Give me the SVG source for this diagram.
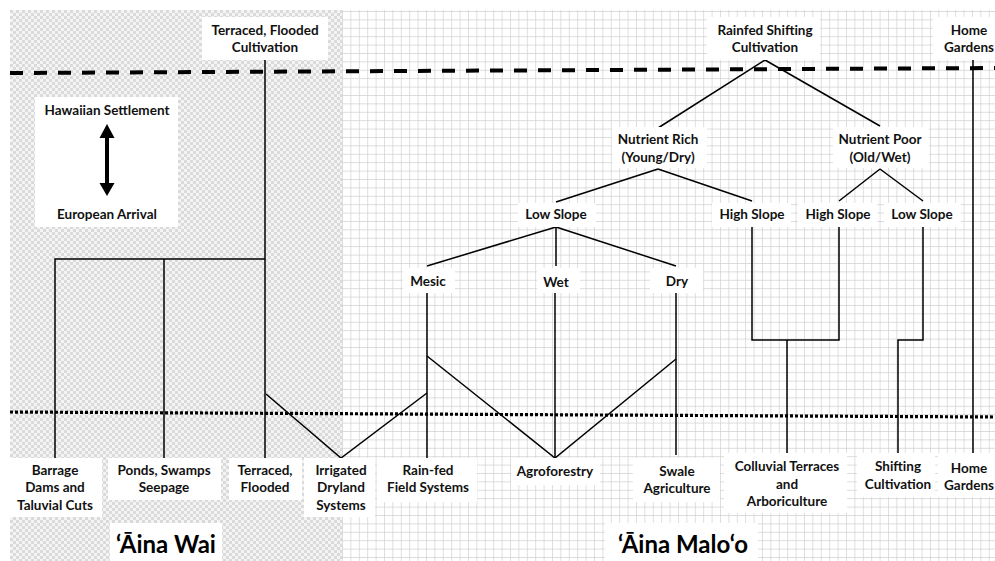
<svg xmlns="http://www.w3.org/2000/svg" width="995" height="561" viewBox="0 0 995 561">
<defs>
<pattern id="checker" x="10" y="10" width="6" height="6" patternUnits="userSpaceOnUse">
<rect width="6" height="6" fill="#f4f4f4"/>
<rect width="3" height="3" fill="#dadada"/>
<rect x="3" y="3" width="3" height="3" fill="#dadada"/>
</pattern>
<pattern id="grid" x="342" y="11" width="8.4" height="8.4" patternUnits="userSpaceOnUse">
<rect width="8.4" height="8.4" fill="#ffffff"/>
<path d="M0 0 V8.4 M0 0 H8.4" stroke="#cfcfcf" stroke-width="1.3" fill="none"/>
</pattern>
</defs>
<style>
text{font-family:Lato,"Liberation Sans",sans-serif;font-weight:bold;font-size:13.5px;fill:#111;text-anchor:middle}
.big{font-size:24px;fill:#000}
.box{fill:#ffffff}
.c{stroke:#000;stroke-width:1.5;fill:none}
</style>
<rect width="995" height="561" fill="#ffffff"/>
<rect x="10" y="10" width="332" height="551" fill="url(#checker)"/>
<rect x="342" y="10" width="653" height="551" fill="url(#grid)"/>

<g id="time-lines">
<line x1="10" y1="73" x2="995" y2="68" stroke="#000" stroke-width="4" stroke-dasharray="13 11"/>
<line x1="10" y1="412" x2="995" y2="417" stroke="#000" stroke-width="3.2" stroke-dasharray="3 2"/>
</g>

<g id="connectors" class="c">
<path d="M265 60 V458"/>
<path d="M55 458 V259 H265"/>
<path d="M164 259 V458"/>
<path d="M266 394 L341 458 L427 393"/>
<path d="M765 60 L658 128"/>
<path d="M765 60 L880 126"/>
<path d="M658 169 L556 202"/>
<path d="M658 169 L752 201"/>
<path d="M880 169 L839 201"/>
<path d="M880 169 L923 201"/>
<path d="M556 227 L427 266"/>
<path d="M556 227 V266"/>
<path d="M556 227 L676 266"/>
<path d="M427 293 V458"/>
<path d="M555 293 V458"/>
<path d="M676 293 V455"/>
<path d="M427 356 L555 458 L676 359"/>
<path d="M752 227 V340 H839 V227"/>
<path d="M787 340 V453"/>
<path d="M923 227 V340 H898 V453"/>
<path d="M973 60 V453"/>
</g>

<g id="legend">
<rect class="box" x="35" y="97" width="143" height="130"/>
<text x="107" y="115">Hawaiian Settlement</text>
<line x1="107" y1="135" x2="107" y2="186" stroke="#000" stroke-width="4"/>
<polygon points="107,124 99.5,138 114.5,138" fill="#000"/>
<polygon points="107,196 99.5,183 114.5,183" fill="#000"/>
<text x="107" y="219">European Arrival</text>
</g>

<g id="n-terraced-top"><rect class="box" x="202" y="17" width="126" height="43"/><text x="265" y="35">Terraced, Flooded</text><text x="265" y="52">Cultivation</text></g>
<g id="n-rainfed"><rect class="box" x="707" y="17" width="113" height="43"/><text x="765" y="35">Rainfed Shifting</text><text x="765" y="52">Cultivation</text></g>
<g id="n-home-top"><rect class="box" x="933" y="17" width="62" height="43"/><text x="969" y="35">Home</text><text x="969" y="52">Gardens</text></g>
<g id="n-rich"><rect class="box" x="612" y="127" width="95" height="41"/><text x="658" y="144">Nutrient Rich</text><text x="658" y="162">(Young/Dry)</text></g>
<g id="n-poor"><rect class="box" x="833" y="127" width="96" height="41"/><text x="880" y="144">Nutrient Poor</text><text x="880" y="162">(Old/Wet)</text></g>
<g id="n-low1"><rect class="box" x="518" y="203" width="78" height="24"/><text x="556" y="219">Low Slope</text></g>
<g id="n-high1"><rect class="box" x="712" y="203" width="79" height="24"/><text x="752" y="219">High Slope</text></g>
<g id="n-high2"><rect class="box" x="798" y="203" width="79" height="24"/><text x="838" y="219">High Slope</text></g>
<g id="n-low2"><rect class="box" x="884" y="203" width="77" height="24"/><text x="922" y="219">Low Slope</text></g>
<g id="n-mesic"><rect class="box" x="403" y="268" width="52" height="25"/><text x="428" y="286">Mesic</text></g>
<g id="n-wet"><rect class="box" x="537" y="268" width="43" height="25"/><text x="556" y="287">Wet</text></g>
<g id="n-dry"><rect class="box" x="650" y="268" width="53" height="25"/><text x="677" y="286">Dry</text></g>

<g id="b-barrage"><rect class="box" x="10" y="458" width="92" height="59"/><text x="55" y="475">Barrage</text><text x="55" y="492">Dams and</text><text x="55" y="510">Taluvial Cuts</text></g>
<g id="b-ponds"><rect class="box" x="108" y="458" width="113" height="42"/><text x="164" y="475">Ponds, Swamps</text><text x="164" y="492">Seepage</text></g>
<g id="b-terraced"><rect class="box" x="229" y="458" width="73" height="42"/><text x="265" y="475">Terraced,</text><text x="265" y="492">Flooded</text></g>
<g id="b-irrigated"><rect class="box" x="304" y="458" width="71" height="59"/><text x="341" y="475">Irrigated</text><text x="341" y="492">Dryland</text><text x="341" y="510">Systems</text></g>
<g id="b-rainfed"><rect class="box" x="377" y="458" width="100" height="44"/><text x="428" y="475">Rain-fed</text><text x="428" y="492">Field Systems</text></g>
<g id="b-agro"><rect class="box" x="511" y="458" width="89" height="27"/><text x="555" y="476">Agroforestry</text></g>
<g id="b-swale"><rect class="box" x="633" y="458" width="87" height="44"/><text x="677" y="476">Swale</text><text x="677" y="493">Agriculture</text></g>
<g id="b-colluvial"><rect class="box" x="724" y="453" width="123" height="60"/><text x="787" y="471">Colluvial Terraces</text><text x="787" y="489">and</text><text x="787" y="506">Arboriculture</text></g>
<g id="b-shifting"><rect class="box" x="857" y="453" width="78" height="44"/><text x="898" y="471">Shifting</text><text x="898" y="489">Cultivation</text></g>
<g id="b-home"><rect class="box" x="938" y="453" width="57" height="44"/><text x="969" y="473">Home</text><text x="969" y="490">Gardens</text></g>

<g id="zone-wai"><rect class="box" x="110" y="523" width="112" height="38"/><text class="big" x="166" y="553">‘Āina Wai</text></g>
<g id="zone-maloo"><rect class="box" x="605" y="523" width="153" height="38"/><text class="big" x="683" y="553">‘Āina Malo‘o</text></g>
</svg>
